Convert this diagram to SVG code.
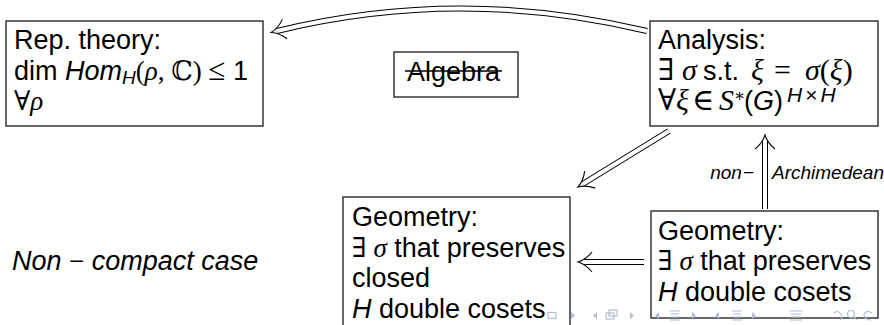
<svg xmlns="http://www.w3.org/2000/svg" width="884" height="325" viewBox="0 0 884 325">
<style>
.t{font-family:"Liberation Sans",Arial,sans-serif;font-size:27px;fill:#000}
.m{font-family:"Liberation Serif","DejaVu Serif",serif}
.mb{font-family:"Liberation Serif","DejaVu Serif",serif;font-size:30px}
.i{font-style:italic}
.lbl{font-family:"Liberation Sans",Arial,sans-serif;font-size:19px;font-style:italic;fill:#000}
.box{fill:#fff;stroke:#2a2a2a;stroke-width:1.4}
.do{fill:none;stroke:#000;stroke-width:6}
.di{fill:none;stroke:#fff;stroke-width:4}
.nav{fill:none;stroke:#b4bcd6;stroke-width:1.2}
.navf{fill:#b4bcd6}
</style>
<defs>
<marker id="ah" markerUnits="userSpaceOnUse" orient="auto" refX="0" refY="0" markerWidth="30" markerHeight="30" viewBox="-15 -15 30 30" overflow="visible">
<path d="M -8,-10 Q -2,-2.5 6,0 Q -2,2.5 -8,10" fill="none" stroke="#000" stroke-width="1.1"/>
</marker>
</defs>

<g id="connectors">
<path class="do" d="M 647,31 Q 460,-14 277,31"/>
<path class="di" d="M 647,31 Q 460,-14 277,31" marker-end="url(#ah)"/>
<path class="do" d="M 669,131 L 583.1,183.8"/>
<path class="di" d="M 669,131 L 583.1,183.8" marker-end="url(#ah)"/>
<path class="do" d="M 765,209 L 765,141"/>
<path class="di" d="M 765,209 L 765,141" marker-end="url(#ah)"/>
<path class="do" d="M 644,262 L 584,262"/>
<path class="di" d="M 644,262 L 584,262" marker-end="url(#ah)"/>
<text class="lbl" x="754" y="179" text-anchor="end">non<tspan font-style="normal" dx="1">−</tspan></text>
<text class="lbl" x="772" y="179">Archimedean</text>
</g>

<g id="rep">
<rect class="box" x="6" y="21" width="257" height="105"/>
<text class="t" x="14" y="49">Rep. theory:</text>
<text class="t" x="14" y="80">dim <tspan class="i">Hom</tspan><tspan class="i" font-size="19" dy="4">H</tspan><tspan class="m" dy="-4">(</tspan><tspan class="m i">ρ</tspan><tspan class="m">, ℂ) </tspan><tspan class="m" font-size="31">≤</tspan> 1</text>
<text class="t" x="14" y="110"><tspan class="m">∀</tspan><tspan class="m i">ρ</tspan></text>
</g>

<g id="algebra">
<rect class="box" x="394" y="52" width="124" height="45"/>
<text class="t" x="407" y="81">Algebra</text>
<line x1="405" y1="71" x2="502" y2="71" stroke="#000" stroke-width="1.5"/>
</g>

<g id="analysis">
<rect class="box" x="650" y="21" width="228" height="105"/>
<text class="t" x="658" y="49">Analysis:</text>
<text class="t" y="80"><tspan class="mb" x="658">∃</tspan><tspan class="mb i" x="682">σ</tspan><tspan x="703">s.t.</tspan><tspan class="mb i" x="751">ξ</tspan><tspan class="mb" x="774">=</tspan><tspan class="mb i" x="805">σ</tspan><tspan class="mb">(</tspan><tspan class="mb i">ξ</tspan><tspan class="mb">)</tspan></text>
<text class="t" y="110"><tspan class="mb" x="658">∀</tspan><tspan class="mb i">ξ</tspan><tspan class="mb" x="692">∈</tspan><tspan class="mb i" x="719">S</tspan><tspan class="m" font-size="17" dy="-9">∗</tspan><tspan x="744" dy="9">(</tspan><tspan class="i">G</tspan>)<tspan class="i" font-size="21" x="787" dy="-8">H</tspan><tspan font-size="21" dx="3">×</tspan><tspan class="i" font-size="21" dx="3">H</tspan></text>
</g>

<g id="geom-closed">
<rect class="box" x="343" y="197" width="227" height="140"/>
<text class="t" x="352" y="226">Geometry:</text>
<text class="t" x="352" y="256.5"><tspan class="m">∃ </tspan><tspan class="m i">σ</tspan> that preserves</text>
<text class="t" x="352" y="287">closed</text>
<text class="t" x="352" y="317.5"><tspan class="i">H</tspan> double cosets</text>
</g>

<g id="geom">
<rect class="box" x="651" y="211" width="227" height="107"/>
<text class="t" x="658" y="239.5">Geometry:</text>
<text class="t" x="658" y="270"><tspan class="m">∃ </tspan><tspan class="m i">σ</tspan> that preserves</text>
<text class="t" x="658" y="300.5"><tspan class="i">H</tspan> double cosets</text>
</g>

<g id="caption">
<text class="t i" x="12" y="270">Non <tspan class="m" font-style="normal">−</tspan> compact  case</text>
</g>

<g id="navigation">
<rect class="nav" x="548" y="312.5" width="8" height="6"/>
<path class="navf" d="M 571,312 L 575,315.5 L 571,319 Z"/>
<path class="navf" d="M 597,312 L 593,315.5 L 597,319 Z"/>
<rect class="nav" x="609" y="310" width="8" height="6"/>
<rect class="nav" x="606" y="313" width="8" height="6" fill="#fff"/>
<path class="navf" d="M 630,312 L 634,315.5 L 630,319 Z"/>
<path class="navf" d="M 659,312 L 655,315.5 L 659,319 Z"/>
<path class="nav" d="M 670,311 H 680 M 671,314 H 679 M 671,317 H 679 M 670,320 H 680"/>
<path class="navf" d="M 692,312 L 696,315.5 L 692,319 Z"/>
<path class="navf" d="M 719,312 L 715,315.5 L 719,319 Z"/>
<path class="nav" d="M 732,311 H 742 M 733,314 H 741 M 733,317 H 741 M 732,320 H 742"/>
<path class="navf" d="M 752,312 L 756,315.5 L 752,319 Z"/>
<path class="nav" d="M 790,311 H 802 M 791,314 H 801 M 791,317 H 801 M 790,320 H 802"/>
<path class="nav" d="M 834,313 Q 838,310 841,314 Q 843,318 840,320"/>
<circle class="nav" cx="851" cy="314" r="3.5"/>
<path class="nav" d="M 853.5,316.5 L 857,320"/>
<path class="nav" d="M 872,313 Q 866,309 864,315 Q 865,320 871,320"/>
</g>
</svg>
